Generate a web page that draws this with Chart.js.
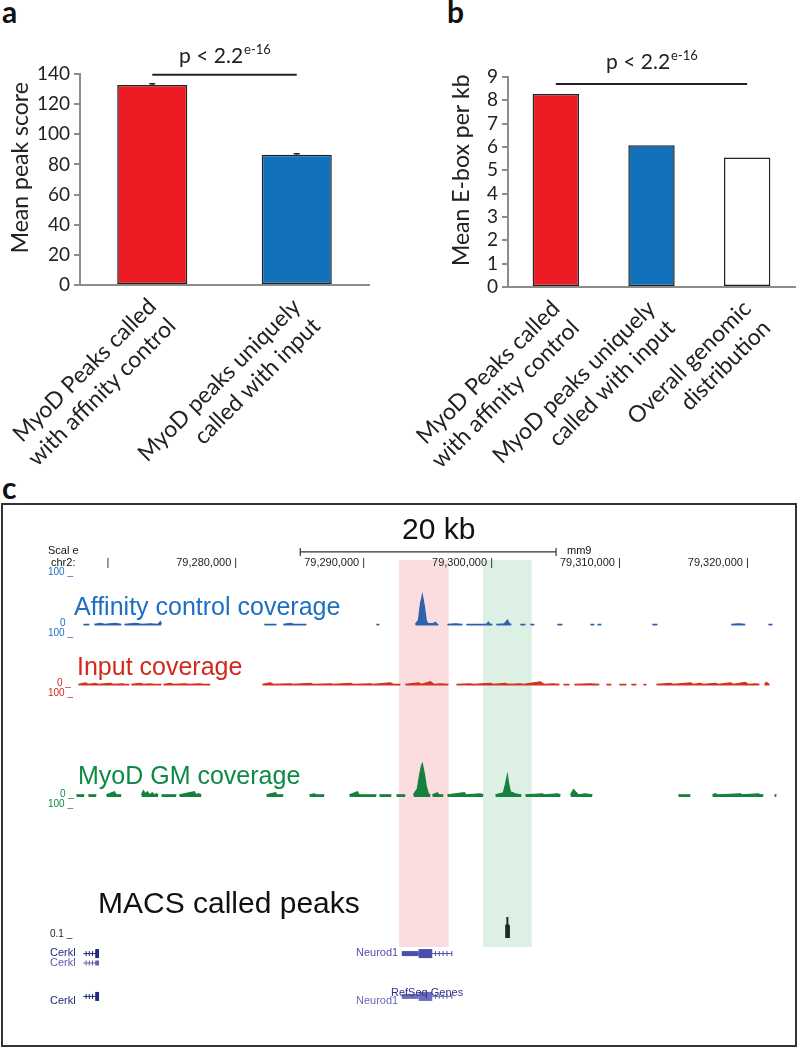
<!DOCTYPE html>
<html><head><meta charset="utf-8">
<script src="https://cdn.jsdelivr.net/npm/chart.js@4.4.0/dist/chart.umd.min.js"></script>
<style>
body{margin:0;background:#fff;}
#page{position:relative;width:799px;height:1050px;overflow:hidden;font-family:'Liberation Sans',Arial,sans-serif;}
canvas{position:absolute;}
.t{position:absolute;white-space:nowrap;line-height:1;}
.lbl{font-family:Lato,sans-serif;font-weight:bold;font-size:30px;color:#111;}
</style></head><body><div id="page">

<div class="t lbl" style="left:2px;top:-4px">a</div>
<div class="t lbl" style="left:447px;top:-4px">b</div>
<div class="t lbl" style="left:2px;top:472px">c</div>

<canvas id="barA" width="400" height="480" style="left:0;top:0"></canvas>
<canvas id="barB" width="399" height="480" style="left:400px;top:0"></canvas>

<!-- panel c -->
<div style="position:absolute;left:1px;top:503px;width:792px;height:540px;border:2px solid #333;"></div>
<canvas id="hl" width="701" height="387" style="left:76px;top:560px"></canvas>
<canvas id="ruler" width="701" height="32" style="left:76px;top:540px"></canvas>
<canvas id="trkAff" width="701" height="55" style="left:76px;top:572px"></canvas>
<canvas id="trkInp" width="701" height="54" style="left:76px;top:633px"></canvas>
<canvas id="trkMyo" width="701" height="107" style="left:76px;top:693px"></canvas>
<canvas id="trkMacs" width="701" height="21" style="left:76px;top:917px"></canvas>
<canvas id="genes" width="701" height="70" style="left:76px;top:940px"></canvas>

<div class="t" style="left:402px;top:514px;font-size:30px;color:#111">20 kb</div>
<div class="t" style="left:48px;top:545px;font-size:11px;color:#111">Scal e</div>
<div class="t" style="left:51px;top:557px;font-size:11px;color:#111">chr2:</div>
<div class="t" style="left:567px;top:545px;font-size:11px;color:#111">mm9</div>

<div class="t" style="left:74px;top:594px;font-size:25px;color:#1f6fc0">Affinity control coverage</div>
<div class="t" style="left:77px;top:654px;font-size:25px;color:#d1291c">Input coverage</div>
<div class="t" style="left:78px;top:763px;font-size:25px;color:#0e8a44">MyoD GM coverage</div>
<div class="t" style="left:98px;top:888px;font-size:30px;color:#111">MACS called peaks</div>

<div class="t" style="left:48px;top:567px;font-size:10px;color:#1f6fc0">100 _</div>
<div class="t" style="left:60px;top:618px;font-size:10px;color:#1f6fc0">0</div>
<div class="t" style="left:48px;top:628px;font-size:10px;color:#1f6fc0">100 _</div>
<div class="t" style="left:57px;top:678px;font-size:10px;color:#d1291c">0 _</div>
<div class="t" style="left:48px;top:688px;font-size:10px;color:#d1291c">100 _</div>
<div class="t" style="left:60px;top:789px;font-size:10px;color:#0e8a44">0 _</div>
<div class="t" style="left:48px;top:799px;font-size:10px;color:#0e8a44">100 _</div>
<div class="t" style="left:50px;top:929px;font-size:10px;color:#222">0.1 _</div>

<div class="t" style="left:50px;top:947px;font-size:11px;color:#1f2a7a">Cerkl</div>
<div class="t" style="left:50px;top:957px;font-size:11px;color:#5a5ab0">Cerkl</div>
<div class="t" style="left:50px;top:995px;font-size:11px;color:#1f2a7a">Cerkl</div>
<div class="t" style="left:356px;top:947px;font-size:11px;color:#5050a8">Neurod1</div>
<div class="t" style="left:356px;top:995px;font-size:11px;color:#6a6ab8">Neurod1</div>
<div class="t" style="left:391px;top:987px;font-size:11px;color:#303088">RefSeq Genes</div>
</div>

<script>
/* ---------- panel a ---------- */
const catsA = [['MyoD Peaks called','with affinity control'],['MyoD peaks uniquely','called with input']];
const peakScore = [132.7, 86.4];
const peakScoreErr = [0.8, 0.7];
const colorsA = ['#ed1c24','#1172bb'];

/* ---------- panel b ---------- */
const catsB = [['MyoD Peaks called','with affinity control'],['MyoD peaks uniquely','called with input'],['Overall genomic','distribution']];
const eboxPerKb = [8.27, 6.08, 5.55];
const colorsB = ['#ed1c24','#1172bb','#ffffff'];

/* ---------- panel c (x in kb past chr2:79,200,000) ---------- */
const chromBaseKb = 79200;
const viewStart = 67.8, viewEnd = 121.8;
const rulerTicks = [70, 80, 90, 100, 110, 120];
const scaleBarKb = [84.93, 104.93];
const highlightKb = [[92.71, 96.49], [99.18, 102.88]];

// coverage segments: [pos,val, pos,val, ...]
const affinitySegs = [
  [68.37,2, 68.83,2],
  [69.21,2, 69.68,4, 70.0,2, 70.83,4, 71.29,2],
  [71.53,2, 72.37,4, 72.9,2, 73.53,3, 74.1,2, 74.3,7, 74.38,2],
  [82.31,2, 83.24,2],
  [83.77,2, 84.31,4, 84.6,2, 85.55,2],
  [90.94,2, 91.17,2],
  [93.94,2, 94.18,10, 94.33,40, 94.48,57, 94.64,35, 94.79,8, 94.94,3, 95.33,4, 95.48,6, 95.64,2, 95.72,2],
  [96.41,2, 97.03,3, 97.57,2],
  [97.87,2, 99.4,2, 99.57,6, 99.72,2, 99.88,2],
  [100.18,2, 100.8,3, 101.03,10, 101.2,3, 101.34,2],
  [102.03,2, 102.42,2],
  [102.80,2, 103.11,2],
  [104.88,2, 105.27,2],
  [107.43,2, 107.73,2],
  [107.97,2, 108.27,2],
  [112.20,2, 112.59,2],
  [118.28,2, 118.82,3, 119.36,2],
  [121.14,2, 121.45,2]
];
const inputSegs = [
  [67.98,2, 68.52,5, 68.75,2, 69.29,4, 69.52,2, 70.45,4, 70.68,2, 71.37,3, 71.6,2, 71.91,2],
  [72.06,2, 72.76,4, 72.99,2, 73.53,3, 73.84,2, 74.38,2],
  [74.53,2, 75.07,4, 75.3,2, 76.23,3, 76.46,2, 77.38,3, 77.6,2, 78.15,2],
  [82.16,2, 82.77,5, 83.0,2, 84.31,3, 84.54,2, 85.86,4, 86.09,2, 87.40,3, 87.63,2, 88.94,4, 89.17,2, 90.48,3, 90.7,2, 92.02,5, 92.25,2, 92.79,2],
  [93.17,2, 94.18,5, 94.41,2, 95.10,7, 95.4,2, 95.87,3, 96.49,2],
  [97.10,2, 98.18,3, 98.41,2, 99.72,4, 99.95,2, 100.88,4, 101.11,2, 102.03,3, 102.26,2, 103.57,7, 103.88,2, 104.50,3, 105.04,2],
  [105.35,2, 105.81,2],
  [106.19,2, 107.43,3, 108.12,2],
  [108.66,2, 109.04,2],
  [109.66,2, 110.20,2],
  [110.58,2, 110.97,2],
  [111.51,2, 111.74,2],
  [112.51,2, 113.59,4, 113.82,2, 115.13,5, 115.36,2, 115.90,4, 116.13,2, 117.05,4, 117.28,2, 118.21,5, 118.44,2, 119.36,6, 119.6,2, 120.13,3, 120.45,2],
  [120.83,2, 120.98,6, 121.22,2]
];
const myodSegs = [
  [67.83,2, 68.44,2],
  [68.75,2, 69.37,2],
  [70.14,2, 70.76,5, 70.9,2, 71.29,2],
  [72.84,2, 72.99,6, 73.15,3, 73.30,5, 73.45,2, 73.68,4, 73.84,2, 73.99,3, 74.14,2],
  [74.38,2, 75.53,2],
  [75.76,2, 76.92,5, 77.05,2, 77.23,3, 77.46,2],
  [82.47,2, 83.16,4, 83.3,2, 83.77,2],
  [85.78,2, 86.16,3, 86.3,2, 86.93,2],
  [88.86,2, 89.48,5, 89.6,2, 90.94,2],
  [91.17,2, 92.10,2],
  [92.48,2, 93.17,2],
  [93.79,2, 94.10,8, 94.25,20, 94.41,30, 94.48,32, 94.64,22, 94.79,10, 94.94,3, 95.10,2],
  [95.25,2, 95.64,4, 95.75,2, 96.10,2],
  [96.41,2, 97.72,4, 97.85,2, 98.95,3, 99.18,2],
  [100.11,2, 100.72,4, 100.88,12, 101.03,21, 101.11,14, 101.26,5, 101.65,3, 102.03,2, 102.11,2],
  [102.42,2, 103.73,3, 103.85,2, 104.88,3, 105.12,2],
  [105.89,2, 106.12,7, 106.27,5, 106.5,2, 107.04,3, 107.58,2],
  [114.20,2, 115.13,2],
  [116.82,2, 117.05,3, 117.2,2, 118.98,3, 119.1,2, 120.37,3, 120.5,2, 120.75,2],
  [121.60,2, 121.76,2]
];
const macsSegs = [
  [100.89,0, 100.91,60, 100.99,65, 101.0,100, 101.05,100, 101.06,65, 101.16,60, 101.18,0]
];

// RefSeq genes
const geneRow    = [1.0, 2.1, 6.0, 1.0, 6.0];
const geneStart  = [67.98, 67.98, 67.98, 92.87, 92.87];
const geneEnd    = [69.21, 69.21, 69.21, 96.80, 96.80];
const geneUtr    = [[], [], [], [92.87, 94.18], [92.87, 94.18]];
const geneCds    = [[68.91, 69.21], [68.91, 69.21], [68.91, 69.21], [94.18, 95.25], [94.18, 95.25]];
const geneChev   = [[68.2, 68.45, 68.7], [68.2, 68.45, 68.7], [68.2, 68.45, 68.7], [95.5, 95.8, 96.1, 96.4, 96.78], [95.5, 95.8, 96.1, 96.4, 96.78]];
const geneColor  = ['#1f2a7a', '#6060b4', '#1f2a7a', '#4d4daa', '#6e6ebd'];
const geneCdsW   = [9, 5, 9, 9, 9];

/* ---------- helpers ---------- */
const FONT = 'Lato, sans-serif';
const AXIS = '#8c8c8c';

const sigBar = {
  id: 'sigBar',
  afterDatasetsDraw(chart, args, o) {
    const {ctx, scales: {x, y}} = chart;
    ctx.save();
    ctx.strokeStyle = '#222'; ctx.fillStyle = '#222';
    // error caps
    (o.err || []).forEach((e, i) => {
      const v = chart.data.datasets[0].data[i], px = x.getPixelForValue(i);
      const t = y.getPixelForValue(v + e), b = y.getPixelForValue(v);
      ctx.lineWidth = 1.5;
      ctx.beginPath(); ctx.moveTo(px, b); ctx.lineTo(px, t);
      ctx.moveTo(px - 3, t); ctx.lineTo(px + 3, t); ctx.stroke();
    });
    const x1 = x.getPixelForValue(o.from), x2 = x.getPixelForValue(o.to), yy = y.getPixelForValue(o.value);
    ctx.lineWidth = 2;
    ctx.beginPath(); ctx.moveTo(x1, yy); ctx.lineTo(x2, yy); ctx.stroke();
    const main = 'p < 2.2', sup = 'e-16';
    ctx.font = '21px ' + FONT; const w1 = ctx.measureText(main).width;
    ctx.font = '13px ' + FONT; const w2 = ctx.measureText(sup).width;
    const sx = (x1 + x2) / 2 - (w1 + w2) / 2, base = yy - o.gap;
    ctx.textAlign = 'left'; ctx.textBaseline = 'alphabetic';
    ctx.font = '21px ' + FONT; ctx.fillText(main, sx, base);
    ctx.font = '13px ' + FONT; ctx.fillText(sup, sx + w1 + 1, base - 9);
    ctx.restore();
  }
};

// pad.plotBottom = y pixel of the x axis line inside the canvas
function barChart(id, cats, vals, colors, yMax, yStep, title, yW, titlePad, pad, sig) {
  return new Chart(document.getElementById(id), {
    type: 'bar',
    data: {labels: cats, datasets: [{data: vals, backgroundColor: colors, borderColor: '#222',
      borderWidth: 1.5, borderSkipped: false, barPercentage: 1, categoryPercentage: 0.485}]},
    options: {
      responsive: false, animation: false, events: [],
      layout: {padding: {top: pad.top, right: pad.right, left: 0, bottom: 0}},
      plugins: {legend: {display: false}, tooltip: {enabled: false}, sigBar: sig},
      scales: {
        x: {grid: {display: false}, border: {display: true, color: AXIS, width: 2},
          ticks: {minRotation: 45, maxRotation: 45, autoSkip: false, padding: 0, color: '#222',
            font: {family: FONT, size: 23}},
          afterFit: s => { s.height = 480 - pad.plotBottom; s.paddingLeft = 0; s.paddingRight = 0; }},
        y: {min: 0, max: yMax, grid: {drawOnChartArea: false, tickLength: 6, color: AXIS, lineWidth: 2},
          border: {display: true, color: AXIS, width: 2},
          ticks: {stepSize: yStep, autoSkip: false, padding: 4, color: '#222', font: {family: FONT, size: 19}},
          // leading spaces nudge the rotated title up a little, as in the figure
          title: {display: true, text: '    ' + title, color: '#222', font: {family: FONT, size: 23}, padding: {top: titlePad}},
          afterFit: s => { s.width = yW; }}
      }
    },
    plugins: [sigBar]
  });
}

barChart('barA', catsA, peakScore, colorsA, 140, 20, 'Mean peak score', 80, 7,
  {top: 74, right: 31, plotBottom: 285},
  {from: 0, to: 1, value: 139.5, gap: 12, err: peakScoreErr});
barChart('barB', catsB, eboxPerKb, colorsB, 9, 1, 'Mean E-box per kb', 108, 48,
  {top: 77, right: 4, plotBottom: 287},
  {from: 0, to: 2, value: 8.7, gap: 15});

/* ---------- panel c ---------- */
const hideX = {type: 'linear', min: viewStart, max: viewEnd, display: false};
const baseOpts = {responsive: false, animation: false, events: [], layout: {padding: 0},
  plugins: {legend: {display: false}, tooltip: {enabled: false}}};

function segPoints(segs) {
  const pts = [];
  segs.forEach(s => {
    for (let i = 0; i < s.length; i += 2) pts.push({x: s[i], y: s[i + 1]});
    pts.push({x: s[s.length - 2], y: null});
  });
  return pts;
}

// highlighted windows
new Chart(document.getElementById('hl'), {
  type: 'bar',
  data: {labels: ['win'], datasets: [
    {data: [highlightKb[0]], backgroundColor: '#fbdde0'},
    {data: [highlightKb[1]], backgroundColor: '#dcf0e3'}]},
  options: {...baseOpts, indexAxis: 'y',
    datasets: {bar: {grouped: false, barPercentage: 1, categoryPercentage: 1, borderWidth: 0}},
    scales: {x: hideX, y: {display: false}}}
});

// ruler + 20 kb bar
new Chart(document.getElementById('ruler'), {
  type: 'line',
  data: {datasets: [{data: scaleBarKb.map(v => ({x: v, y: 6})), borderColor: '#333', borderWidth: 1.2,
    pointStyle: 'line', rotation: 90, pointRadius: 4, pointBorderColor: '#333', pointBorderWidth: 1.2}]},
  options: {...baseOpts,
    scales: {
      x: {type: 'linear', min: viewStart, max: viewEnd, position: 'bottom',
        afterBuildTicks: s => { s.ticks = rulerTicks.map(v => ({value: v})); },
        grid: {display: false, drawTicks: false}, border: {display: false},
        ticks: {align: 'end', padding: 0, autoSkip: false, maxRotation: 0, color: '#222',
          font: {family: 'Liberation Sans', size: 11},
          callback: v => v === rulerTicks[0] ? '|' : ((chromBaseKb + v) * 1000).toLocaleString('en-US') + ' |'},
        afterFit: s => { s.height = 16; s.paddingLeft = 0; s.paddingRight = 0; }},
      y: {min: 0, max: 16, display: false}
    }}
});

function trackChart(id, segs, color, yMin, yMax) {
  return new Chart(document.getElementById(id), {
    type: 'line',
    data: {datasets: [{data: segPoints(segs), borderColor: color, backgroundColor: color, borderWidth: 1.2,
      fill: 'origin', pointRadius: 0, tension: 0, spanGaps: false}]},
    options: {...baseOpts, scales: {x: hideX, y: {min: yMin, max: yMax, display: false}}}
  });
}
trackChart('trkAff', affinitySegs, '#2f62ad', -3, 100);
trackChart('trkInp', inputSegs, '#d2321f', -3, 100);
trackChart('trkMyo', myodSegs, '#18803e', -3, 100);
trackChart('trkMacs', macsSegs, '#16301f', 0, 100);

// gene models
const geneSets = [];
geneRow.forEach((r, i) => {
  const c = geneColor[i];
  geneSets.push({type: 'line', data: [{x: geneStart[i], y: r}, {x: geneEnd[i], y: r}], borderColor: c, borderWidth: 1, pointRadius: 0});
  if (geneUtr[i].length) geneSets.push({type: 'line', data: [{x: geneUtr[i][0], y: r}, {x: geneUtr[i][1], y: r}], borderColor: c, borderWidth: 5, pointRadius: 0});
  geneSets.push({type: 'line', data: [{x: geneCds[i][0], y: r}, {x: geneCds[i][1], y: r}], borderColor: c, borderWidth: geneCdsW[i], pointRadius: 0});
  geneSets.push({type: 'scatter', data: geneChev[i].map(v => ({x: v, y: r})), pointStyle: 'line', rotation: 90,
    pointRadius: 2.5, pointBorderColor: c, pointBorderWidth: 1});
});
new Chart(document.getElementById('genes'), {
  type: 'line',
  data: {datasets: geneSets},
  options: {...baseOpts, scales: {x: hideX, y: {min: 0, max: 7, reverse: true, display: false}}}
});
</script>
</body></html>
